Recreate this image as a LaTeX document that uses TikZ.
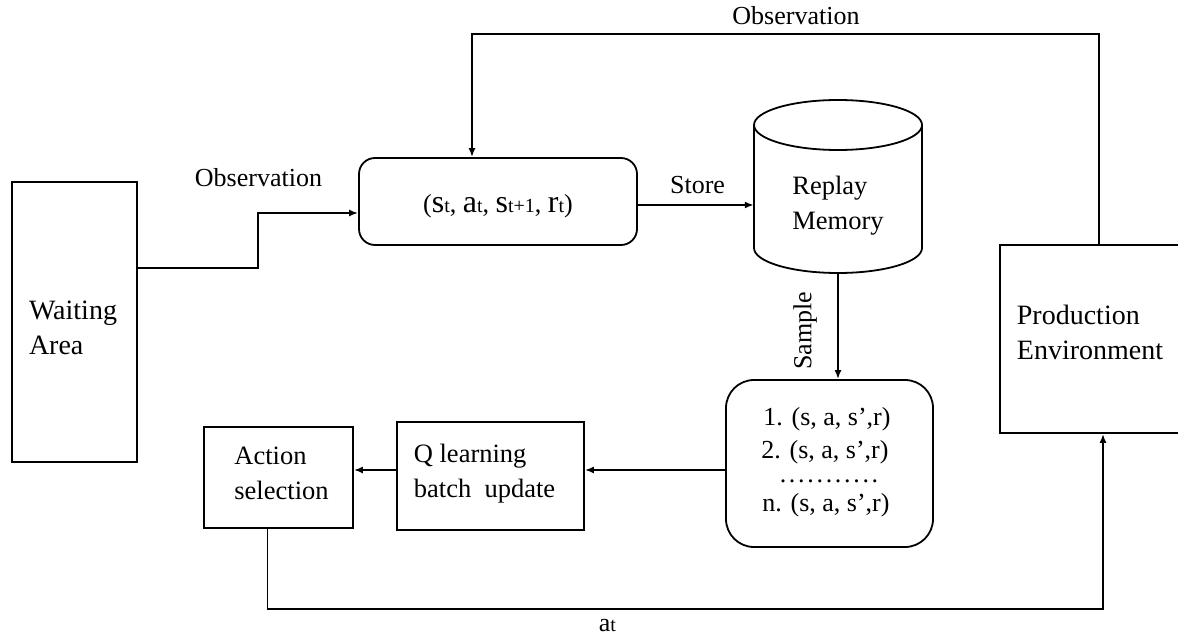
\documentclass[tikz,border=0pt]{standalone}
\usepackage{fontspec}
\setmainfont{Liberation Serif}
\usetikzlibrary{arrows.meta,calc}
\newcommand{\tupbig}[1]{{\fontsize{32}{32}\selectfont #1}}
\newcommand{\tupsml}[1]{{\fontsize{20}{20}\selectfont #1}}
\begin{document}
\begin{tikzpicture}[x=1pt,y=-1pt,
  box/.style={draw, inner sep=0pt, line width=1.8pt},
  rbox/.style={box, rounded corners=16pt},
  lbl/.style={font=\fontsize{26}{31}\selectfont, inner sep=0pt},
  txt/.style={font=\fontsize{26.5}{35}\selectfont, align=left, inner sep=0pt},
  bigtxt/.style={font=\fontsize{28}{35}\selectfont, align=left, inner sep=0pt},
  arr/.style={-{Latex[length=9pt,width=7pt]}, line width=1.8pt},
  conn/.style={line width=1.8pt}]
\useasboundingbox (0,0) rectangle (1178,639);
\clip (0,0) rectangle (1178,639);

% boxes
\node[box, minimum width=125pt, minimum height=280pt] (wait) at (74.5,322) {};
\node[bigtxt] (waittxt) at (73,328) {Waiting\\Area};

\node[box, minimum width=181pt, minimum height=188pt] (prod) at (1090.5,339) {};
\node[bigtxt] (prodtxt) at (1090,332.5) {Production\\Environment};

\node[rbox, minimum width=278pt, minimum height=87pt] (trans) at (498,201.5) {};
\node[lbl] (transtxt) at (498,206.5) {(\tupbig{s}\tupsml{t}, \tupbig{a}\tupsml{t}, \tupbig{s}\tupsml{t+1}, \tupbig{r}\tupsml{t})};

% cylinder
\draw[box] (754,125) -- (754,248) arc[start angle=180, end angle=0, x radius=84, y radius=25] -- (922,125);
\draw[box] (838,125) ellipse [x radius=84, y radius=25];
\node[inner sep=0pt, minimum width=168pt, minimum height=173pt] (mem) at (838,186.5) {};
\node[txt] (memtxt) at (838,205.5) {Replay\\Memory};

\node[rbox, rounded corners=28pt, minimum width=207pt, minimum height=167pt] (tup) at (829.5,463.5) {};
\node[lbl] (tup1) at (827,419) {1. (s, a, s’,r)};
\node[lbl] (tup2) at (825,452) {2. (s, a, s’,r)};
\node[lbl] (tupd) at (829,481) {.\hspace{2.7pt}.\hspace{2.7pt}.\hspace{2.7pt}.\hspace{2.7pt}.\hspace{2.7pt}.\hspace{2.7pt}.\hspace{2.7pt}.\hspace{2.7pt}.\hspace{2.7pt}.\hspace{2.7pt}.};
\node[lbl] (tupn) at (826,505) {n. (s, a, s’,r)};

\node[box, minimum width=187pt, minimum height=108pt] (q) at (490.5,476) {};
\node[txt] (qtxt) at (484.5,474) {Q learning\\batch~ update};

\node[box, minimum width=149pt, minimum height=101pt] (act) at (278.5,477.5) {};
\node[txt] (acttxt) at (281.5,473) {Action\\selection};

% labels
\node[lbl] (obs1) at (258.5,178) {Observation};
\node[lbl] (obs2) at (796,16) {Observation};
\node[lbl] (store) at (697.5,185) {Store};
\node[lbl, rotate=90] (sample) at (805,331) {Sample};
\node[lbl] (atlbl) at (607.5,626) {a\tupsml{t}};

% connectors
\draw[arr] ([yshift=54pt]wait.east) -- ++(120,0) |- ([yshift=-11.5pt]trans.west);
\draw[arr] ([yshift=-3.5pt]trans.east) -- ([yshift=-3.5pt]trans.east -| mem.west);
\draw[arr] (mem.south) -- (mem.south |- tup.north);
\draw[arr] ([yshift=-6.5pt]tup.west) -- ([yshift=-6.5pt]tup.west -| q.east);
\draw[arr] ([yshift=6pt]q.west) -- ([yshift=6pt]q.west -| act.east);
\draw[arr] ([xshift=-11pt]act.south) -- ++(0,80) -| ([xshift=12.5pt]prod.south);
\draw[arr] ([xshift=8.5pt]prod.north) -- ++(0,-210) -| ([xshift=-26pt]trans.north);
\end{tikzpicture}
\end{document}
